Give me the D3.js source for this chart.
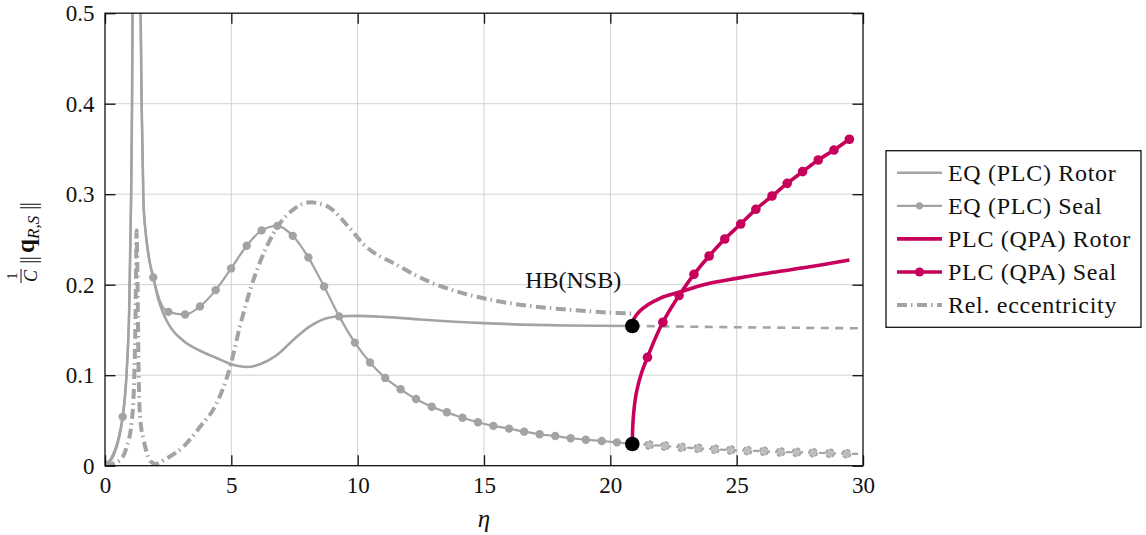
<!DOCTYPE html>
<html>
<head>
<meta charset="utf-8">
<script src="https://cdn.jsdelivr.net/npm/d3@7"></script>
<style>
  html, body { margin: 0; padding: 0; background: #fff; }
  svg { display: block; }
  text { font-family: "Liberation Serif", "Times New Roman", serif; fill: #111; }
</style>
</head>
<body>
<svg id="chart" width="1146" height="535"></svg>
<script>
// ---------------- DATA ----------------
const xTicks = [0, 5, 10, 15, 20, 25, 30];
const xTickLabels = ["0", "5", "10", "15", "20", "25", "30"];
const yTicks = [0, 0.1, 0.2, 0.3, 0.4, 0.5];
const yTickLabels = ["0", "0.1", "0.2", "0.3", "0.4", "0.5"];

// EQ (PLC) Rotor - stable branch
const rotorEta = [0, 0.35, 0.55, 0.70, 0.86, 0.96, 1.03, 1.07, 1.09, 1.15, 1.25, 1.35, 1.41, 1.45, 1.52, 1.62, 1.75, 1.91, 2.10, 2.31, 2.57, 3.10, 3.76, 4.42, 5.01, 5.61, 6.13, 6.79, 7.45, 8.11, 8.77, 9.30, 10.0, 11.0, 12.5, 15.0, 18.14, 20.87];
const rotorVal = [0, 0.012, 0.030, 0.054, 0.105, 0.175, 0.290, 0.400, 0.500, 0.750, 1.100, 0.750, 0.500, 0.400, 0.293, 0.255, 0.228, 0.208, 0.185, 0.168, 0.154, 0.138, 0.127, 0.119, 0.112, 0.109, 0.112, 0.122, 0.139, 0.154, 0.163, 0.1652, 0.1655, 0.1645, 0.1615, 0.1575, 0.155, 0.1544];
// EQ (PLC) Rotor - unstable branch (dashed)
const rotorUnstEta = [20.87, 25.0, 30.0];
const rotorUnstVal = [0.1544, 0.153, 0.1518];

// EQ (PLC) Seal - marked points (stable)
const sealEta = [0.08, 0.70, 1.91, 2.51, 3.17, 3.76, 4.38, 4.99, 5.61, 6.20, 6.82, 7.43, 8.05, 8.67, 9.27, 9.89, 10.49, 11.09, 11.70, 12.31, 12.93, 13.53, 14.15, 14.76, 15.37, 15.99, 16.59, 17.20, 17.82, 18.43, 19.03, 19.66, 20.26, 20.87];
const sealVal = [0.001, 0.054, 0.208, 0.170, 0.167, 0.176, 0.194, 0.218, 0.243, 0.260, 0.265, 0.254, 0.230, 0.198, 0.165, 0.136, 0.114, 0.097, 0.0844, 0.0737, 0.0652, 0.059, 0.053, 0.048, 0.044, 0.041, 0.0376, 0.0347, 0.0328, 0.0303, 0.0287, 0.0273, 0.0258, 0.024];
// EQ (PLC) Seal - unmarked samples on the resonance spike
const sealSpikeEta = [0.86, 0.96, 1.03, 1.07, 1.09, 1.15, 1.25, 1.35, 1.41, 1.45, 1.52, 1.62, 1.75, 2.22];
const sealSpikeVal = [0.105, 0.175, 0.290, 0.400, 0.500, 0.750, 1.100, 0.750, 0.500, 0.400, 0.293, 0.255, 0.228, 0.179];
// EQ (PLC) Seal - unstable branch (dashed, marked)
const sealUnstEta = [20.87, 21.54, 22.16, 22.82, 23.48, 24.14, 24.77, 25.43, 26.08, 26.74, 27.37, 28.03, 28.69, 29.35];
const sealUnstVal = [0.024, 0.0229, 0.0218, 0.0203, 0.0192, 0.0181, 0.0173, 0.0166, 0.0159, 0.0151, 0.0148, 0.0144, 0.0137, 0.0133];
const sealUnstEndEta = 30.0;
const sealUnstEndVal = 0.0128;

// PLC (QPA) Rotor
const qpaRotorEta = [20.87, 20.90, 20.97, 21.17, 21.50, 21.96, 22.75, 23.81, 25.00, 26.45, 27.77, 29.46];
const qpaRotorVal = [0.1544, 0.160, 0.164, 0.171, 0.178, 0.185, 0.192, 0.2008, 0.207, 0.2137, 0.2192, 0.2273];

// PLC (QPA) Seal - marked points
const qpaSealEta = [20.87, 21.47, 22.08, 22.72, 23.31, 23.91, 24.53, 25.16, 25.76, 26.40, 27.00, 27.61, 28.23, 28.85, 29.46];
const qpaSealVal = [0.024, 0.1198, 0.1585, 0.188, 0.2115, 0.2317, 0.2505, 0.267, 0.2833, 0.298, 0.312, 0.3249, 0.3378, 0.3488, 0.3607];
// PLC (QPA) Seal - unmarked samples near the bifurcation
const qpaSealExtraEta = [20.89, 20.93, 21.04, 21.24];
const qpaSealExtraVal = [0.045, 0.060, 0.082, 0.103];

// Relative eccentricity
const eccEta = [0, 0.59, 0.86, 1.05, 1.15, 1.21, 1.24, 1.25, 1.27, 1.30, 1.34, 1.40, 1.52, 1.78, 1.98, 2.44, 3.10, 3.76, 4.42, 4.95, 5.34, 5.87, 6.40, 6.93, 7.45, 8.11, 8.77, 9.70, 10.22, 11.54, 12.86, 14.18, 15.50, 16.82, 18.14, 19.46, 20.87];
const eccVal = [0, 0.006, 0.021, 0.047, 0.090, 0.170, 0.240, 0.260, 0.240, 0.170, 0.090, 0.050, 0.030, 0.006, 0.002, 0.008, 0.021, 0.043, 0.069, 0.109, 0.154, 0.205, 0.242, 0.268, 0.283, 0.291, 0.287, 0.262, 0.245, 0.222, 0.203, 0.1905, 0.182, 0.1765, 0.1728, 0.170, 0.168];

// Bifurcation points HB(NSB)
const hbEta = [20.87, 20.87];
const hbVal = [0.1544, 0.024];
const hbLabel = "HB(NSB)";
const hbLabelEta = 18.53;
const hbLabelVal = 0.196;

const legendLabels = ["EQ (PLC) Rotor", "EQ (PLC) Seal", "PLC (QPA) Rotor", "PLC (QPA) Seal", "Rel. eccentricity"];

// ---------------- DRAWING ----------------
const GRAY = "#a3a3a3";
const CRIM = "#c6005b";
const svg = d3.select("#chart");

const x = d3.scaleLinear().domain([0, 30]).range([105, 863]);
const y = d3.scaleLinear().domain([0, 0.5]).range([465.7, 13.2]);
const [X0, X1] = x.range();
const [Y0, Y1] = y.range();

const zip = (a, b) => a.map((v, i) => [v, b[i]]);
const lineX = d3.line().x(d => x(d[0])).y(d => y(d[1])).curve(d3.curveMonotoneX);
const lineY = d3.line().x(d => x(d[0])).y(d => y(d[1])).curve(d3.curveMonotoneY);

svg.append("defs").append("clipPath").attr("id", "plotclip")
  .append("rect").attr("x", X0).attr("y", Y1).attr("width", X1 - X0).attr("height", Y0 - Y1);

// grid
const grid = svg.append("g");
grid.selectAll("line.gx").data(xTicks.slice(1, -1)).join("line")
  .attr("x1", d => x(d)).attr("x2", d => x(d)).attr("y1", Y0).attr("y2", Y1)
  .attr("stroke", "#d2d2d2").attr("stroke-width", 1);
grid.selectAll("line.gy").data(yTicks.slice(1, -1)).join("line")
  .attr("y1", d => y(d)).attr("y2", d => y(d)).attr("x1", X0).attr("x2", X1)
  .attr("stroke", "#d2d2d2").attr("stroke-width", 1);

const plot = svg.append("g").attr("clip-path", "url(#plotclip)");

// eccentricity
plot.append("path").datum(zip(eccEta, eccVal)).attr("d", lineX)
  .attr("fill", "none").attr("stroke", GRAY).attr("stroke-width", 4)
  .attr("stroke-dasharray", "10 4 1.5 4.5");

// rotor stable + unstable
plot.append("path").datum(zip(rotorEta, rotorVal)).attr("d", lineX)
  .attr("fill", "none").attr("stroke", GRAY).attr("stroke-width", 2.6);
plot.append("path").datum(zip(rotorUnstEta, rotorUnstVal)).attr("d", lineX)
  .attr("fill", "none").attr("stroke", GRAY).attr("stroke-width", 2.6)
  .attr("stroke-dasharray", "8 6.5");

// seal stable
const sealAll = zip(sealEta, sealVal).concat(zip(sealSpikeEta, sealSpikeVal)).sort((a, b) => a[0] - b[0]);
plot.append("path").datum(sealAll).attr("d", lineX)
  .attr("fill", "none").attr("stroke", GRAY).attr("stroke-width", 2.2);
plot.selectAll("circle.seal").data(zip(sealEta, sealVal)).join("circle")
  .attr("cx", d => x(d[0])).attr("cy", d => y(d[1])).attr("r", 4.2).attr("fill", GRAY);

// seal unstable
const sealUnstLine = zip(sealUnstEta, sealUnstVal).concat([[sealUnstEndEta, sealUnstEndVal]]);
plot.append("path").datum(sealUnstLine).attr("d", lineX)
  .attr("fill", "none").attr("stroke", GRAY).attr("stroke-width", 2.2)
  .attr("stroke-dasharray", "6 5");
plot.selectAll("circle.sealu").data(zip(sealUnstEta, sealUnstVal).slice(1)).join("circle")
  .attr("cx", d => x(d[0])).attr("cy", d => y(d[1])).attr("r", 4.2)
  .attr("fill", "#bdbdbd").attr("stroke", GRAY).attr("stroke-width", 1.6)
  .attr("stroke-dasharray", "4 2.5");

// QPA rotor
plot.append("path").datum(zip(qpaRotorEta, qpaRotorVal)).attr("d", lineX)
  .attr("fill", "none").attr("stroke", CRIM).attr("stroke-width", 3.6);

// QPA seal
const qpaSealAll = zip(qpaSealEta, qpaSealVal).concat(zip(qpaSealExtraEta, qpaSealExtraVal)).sort((a, b) => a[0] - b[0]);
plot.append("path").datum(qpaSealAll).attr("d", lineY)
  .attr("fill", "none").attr("stroke", CRIM).attr("stroke-width", 3.6);
plot.selectAll("circle.qpa").data(zip(qpaSealEta, qpaSealVal)).join("circle")
  .attr("cx", d => x(d[0])).attr("cy", d => y(d[1])).attr("r", 4.8).attr("fill", CRIM);

// HB points
plot.selectAll("circle.hb").data(zip(hbEta, hbVal)).join("circle")
  .attr("cx", d => x(d[0])).attr("cy", d => y(d[1])).attr("r", 7.3).attr("fill", "#000");

svg.append("text").attr("x", x(hbLabelEta)).attr("y", y(hbLabelVal))
  .attr("text-anchor", "middle").attr("font-size", 24).text(hbLabel);

// axes (ticks inward)
const tickFont = 23;
const ax = svg.append("g").attr("transform", `translate(0,${Y0})`)
  .call(d3.axisBottom(x).tickValues(xTicks).tickFormat((d, i) => xTickLabels[i]).tickSize(-10.5).tickPadding(11));
const axTop = svg.append("g").attr("transform", `translate(0,${Y1})`)
  .call(d3.axisTop(x).tickValues(xTicks).tickFormat("").tickSize(-10.5));
const ay = svg.append("g").attr("transform", `translate(${X0},0)`)
  .call(d3.axisLeft(y).tickValues(yTicks).tickFormat((d, i) => yTickLabels[i]).tickSize(-10.5).tickPadding(10.5));
const ayR = svg.append("g").attr("transform", `translate(${X1},0)`)
  .call(d3.axisRight(y).tickValues(yTicks).tickFormat("").tickSize(-10.5));
[ax, axTop, ay, ayR].forEach(g => {
  g.select(".domain").remove();
  g.selectAll(".tick line").attr("stroke", "#111").attr("stroke-width", 1.3);
  g.selectAll(".tick text").attr("font-family", "Liberation Serif").attr("font-size", tickFont).attr("fill", "#111");
});

// frame
svg.append("rect").attr("x", X0).attr("y", Y1).attr("width", X1 - X0).attr("height", Y0 - Y1)
  .attr("fill", "none").attr("stroke", "#111").attr("stroke-width", 1.3);

// x label
svg.append("text").attr("x", (X0 + X1) / 2).attr("y", 527).attr("text-anchor", "middle")
  .attr("font-size", 25).attr("font-style", "italic").text("η");

// y label (rotated): 1/C ||q_{R,S}||
const yl = svg.append("g").attr("transform", "translate(34,283) rotate(-90)");
yl.append("text").attr("x", 7).attr("y", -17).attr("text-anchor", "middle").attr("font-size", 14).text("1");
yl.append("line").attr("x1", 0).attr("x2", 14).attr("y1", -13).attr("y2", -13).attr("stroke", "#111").attr("stroke-width", 1);
yl.append("text").attr("x", 7).attr("y", 3).attr("text-anchor", "middle").attr("font-size", 18).attr("font-style", "italic").text("C");
yl.append("text").attr("x", 19).attr("y", 2).attr("font-size", 23).attr("letter-spacing", -1.2).text("||");
yl.append("text").attr("x", 30).attr("y", 0).attr("font-size", 25).attr("font-weight", "bold").text("q");
yl.append("text").attr("x", 44).attr("y", 5).attr("font-size", 17).attr("font-style", "italic").text("R,S");
yl.append("text").attr("x", 73).attr("y", 2).attr("font-size", 23).attr("letter-spacing", -1.2).text("||");

// legend
const lg = svg.append("g");
lg.append("rect").attr("x", 886).attr("y", 150.7).attr("width", 255).attr("height", 176.6)
  .attr("fill", "#fff").attr("stroke", "#111").attr("stroke-width", 1.3);
const rowY = i => 172.7 + i * 33.1;
const legendStyles = [
  { color: GRAY, w: 2.6, dash: null, mark: 0 },
  { color: GRAY, w: 2.2, dash: null, mark: 3.6 },
  { color: CRIM, w: 3.6, dash: null, mark: 0 },
  { color: CRIM, w: 3.6, dash: null, mark: 4.6 },
  { color: GRAY, w: 4, dash: "10 4 1.5 4.5", mark: 0 }
];
legendLabels.forEach((lab, i) => {
  const s = legendStyles[i];
  const l = lg.append("line").attr("x1", 897).attr("x2", 942).attr("y1", rowY(i)).attr("y2", rowY(i))
    .attr("stroke", s.color).attr("stroke-width", s.w);
  if (s.dash) l.attr("stroke-dasharray", s.dash);
  if (s.mark) lg.append("circle").attr("cx", 919.5).attr("cy", rowY(i)).attr("r", s.mark).attr("fill", s.color);
  lg.append("text").attr("x", 948).attr("y", rowY(i) + 7.8).attr("font-size", 24)
    .attr("letter-spacing", 0.7).text(lab);
});
</script>
</body>
</html>
